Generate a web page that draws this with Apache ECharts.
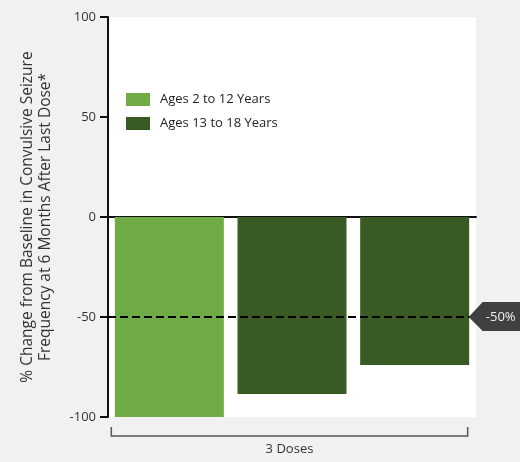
<!DOCTYPE html>
<html>
<head>
<meta charset="utf-8">
<script src="https://cdn.jsdelivr.net/npm/echarts@6/dist/echarts.min.js"></script>
<style>
  html, body { margin: 0; padding: 0; background: #f1f1f1; }
  #chart { width: 520px; height: 462px; }
</style>
</head>
<body>
<div id="chart"></div>
<script>
// Categories: three bars under one "3 Doses" group
const categories = ['A', 'B', 'C'];
const groupLabel = '3 Doses';
const seriesNames = ['Ages 2 to 12 Years', 'Ages 13 to 18 Years'];
const youngerValues = [-100, '-', '-'];
const olderValues = ['-', -88.5, -74];
const thresholdValue = -50;
const thresholdLabel = '-50%';
const yTicks = { min: -100, max: 100, interval: 50 };
const yTitle = '% Change from Baseline in Convulsive Seizure\nFrequency at 6 Months After Last Dose*';

const FONT = '"Open Sans", "Noto Sans", sans-serif';
const chart = echarts.init(document.getElementById('chart'), null, { renderer: 'canvas' });

chart.setOption({
  backgroundColor: '#f1f1f1',
  animation: false,
  textStyle: { fontFamily: FONT },
  grid: {
    left: 108, right: 44, top: 17, bottom: 45,
    show: true, backgroundColor: '#ffffff', borderWidth: 0
  },
  legend: {
    orient: 'vertical',
    left: 121, top: 88,
    icon: 'rect',
    itemWidth: 24, itemHeight: 13, itemGap: 11,
    textStyle: { fontFamily: FONT, fontSize: 13, color: '#222', padding: [0, 0, 0, 5] },
    data: seriesNames
  },
  xAxis: {
    type: 'category',
    data: categories,
    axisLine: { onZero: true, lineStyle: { color: '#111', width: 2 } },
    axisTick: { show: false },
    axisLabel: { show: false },
    splitLine: { show: false }
  },
  yAxis: {
    type: 'value',
    min: yTicks.min, max: yTicks.max, interval: yTicks.interval,
    name: yTitle,
    nameLocation: 'middle',
    nameGap: 53,
    nameTextStyle: { fontFamily: FONT, fontSize: 15.5, color: '#333', lineHeight: 18 },
    axisLine: { show: true, lineStyle: { color: '#111', width: 2 } },
    axisTick: { show: true, length: 8, lineStyle: { color: '#111', width: 2 } },
    axisLabel: { fontFamily: FONT, fontSize: 13, color: '#333', margin: 12 },
    splitLine: { show: false }
  },
  series: [
    {
      name: seriesNames[0], type: 'bar', stack: 'g',
      data: youngerValues, barWidth: 109,
      itemStyle: { color: '#6fac46' }
    },
    {
      name: seriesNames[1], type: 'bar', stack: 'g',
      data: olderValues, barWidth: 109,
      itemStyle: { color: '#3a5a24' },
      markLine: {
        silent: true,
        symbol: 'none',
        label: { show: false },
        lineStyle: { color: '#000', width: 2, type: [8, 4] },
        data: [{ yAxis: thresholdValue }]
      }
    }
  ]
});

// Decorations placed from axis coordinates: threshold tag and the group bracket
function drawDecorations() {
  const yThr = chart.convertToPixel({ yAxisIndex: 0 }, thresholdValue);
  const yBottom = chart.convertToPixel({ yAxisIndex: 0 }, yTicks.min);
  const x0 = chart.convertToPixel({ xAxisIndex: 0 }, categories[0]);
  const x2 = chart.convertToPixel({ xAxisIndex: 0 }, categories[categories.length - 1]);
  const half = 58;
  const left = x0 - half, right = x2 + half - 5;
  const tipX = right + 1;
  const bracketY = yBottom + 19;

  chart.setOption({
    graphic: [
      {
        type: 'polygon', z: 100,
        shape: { points: [[tipX, yThr], [tipX + 14, yThr - 15], [520, yThr - 15], [520, yThr + 14], [tipX + 14, yThr + 14]] },
        style: { fill: '#404040' }
      },
      {
        type: 'text', z: 101,
        x: tipX + 32, y: yThr,
        style: { text: thresholdLabel, fill: '#f0f0f0', font: '13px ' + FONT, textAlign: 'center', textVerticalAlign: 'middle' }
      },
      {
        type: 'polyline', z: 100,
        shape: { points: [[left, bracketY - 9], [left, bracketY], [right, bracketY], [right, bracketY - 9]] },
        style: { stroke: '#555', lineWidth: 1.5, fill: null }
      },
      {
        type: 'text', z: 101,
        x: (left + right) / 2, y: bracketY + 13,
        style: { text: groupLabel, fill: '#333', font: '13px ' + FONT, textAlign: 'center', textVerticalAlign: 'middle' }
      }
    ]
  });
}
drawDecorations();
</script>
</body>
</html>
